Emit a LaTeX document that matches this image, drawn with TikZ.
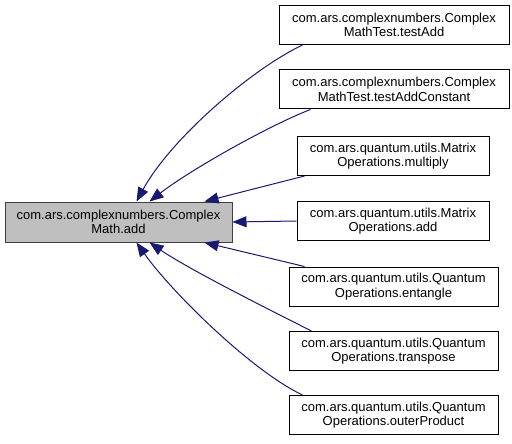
\documentclass[tikz,border=0pt]{standalone}
\usepackage{fontspec}
\setmainfont{Liberation Sans}
\usetikzlibrary{arrows.meta}
\definecolor{edgeblue}{HTML}{191970}
\definecolor{mainfill}{HTML}{BFBFBF}
\definecolor{mainline}{HTML}{404040}
\tikzset{
  fn/.style={draw=black, fill=white, line width=1pt, align=center, inner sep=0pt,
    minimum height=39pt, font=\fontsize{13}{14.5}\selectfont},
  fnmain/.style={fn, draw=mainline, fill=mainfill, minimum width=227pt, minimum height=40pt},
  call/.style={draw=edgeblue, line width=1pt, -{Triangle[length=14pt,width=11pt]}}
}
\begin{document}
\begin{tikzpicture}[x=1pt,y=-1pt]
  \useasboundingbox (0,0) rectangle (512,444);
  \node[fnmain] (main) at (118.5,222) {com.ars.complexnumbers.Complex\\Math.add};
  \node[fn, minimum width=230pt] (t1) at (394,25) {com.ars.complexnumbers.Complex\\MathTest.testAdd};
  \node[fn, minimum width=230pt] (t2) at (394,89.5) {com.ars.complexnumbers.Complex\\MathTest.testAddConstant};
  \node[fn, minimum width=192pt] (m1) at (393,156) {com.ars.quantum.utils.Matrix\\Operations.multiply};
  \node[fn, minimum width=192pt] (m2) at (393,221) {com.ars.quantum.utils.Matrix\\Operations.add};
  \node[fn, minimum width=209pt] (q1) at (393.5,286.5) {com.ars.quantum.utils.Quantum\\Operations.entangle};
  \node[fn, minimum width=209pt] (q2) at (393.5,351) {com.ars.quantum.utils.Quantum\\Operations.transpose};
  \node[fn, minimum width=209pt] (q3) at (393.5,415) {com.ars.quantum.utils.Quantum\\Operations.outerProduct};
  % callers of Math.add
  \draw[call] ([xshift=24pt]t1.south west) .. controls (250,70) and (170,140) .. ([xshift=132pt]main.north west);
  \draw[call] ([xshift=32pt]t2.south west) .. controls (270,125) and (190,170) .. ([xshift=145pt]main.north west);
  \draw[call] ([xshift=8pt]m1.south west) -- ([xshift=200pt]main.north west);
  \draw[call] (m2.west) -- (main.east);
  \draw[call] ([xshift=16pt]q1.north west) -- ([xshift=200pt]main.south west);
  \draw[call] ([xshift=23pt]q2.north west) .. controls (270,310) and (190,270) .. ([xshift=145pt]main.south west);
  \draw[call] ([xshift=14pt]q3.north west) .. controls (250,370) and (170,290) .. ([xshift=132pt]main.south west);
\end{tikzpicture}
\end{document}
